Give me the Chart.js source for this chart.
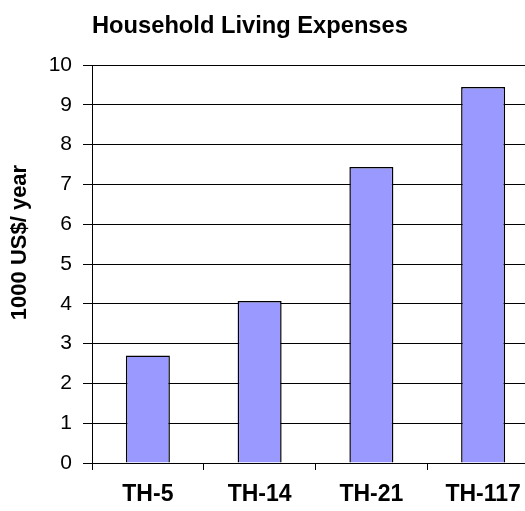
<!DOCTYPE html>
<html>
<head>
<meta charset="utf-8">
<script src="https://cdn.jsdelivr.net/npm/chart.js@4"></script>
<style>
    html, body { margin: 0; padding: 0; background: #fff; overflow: hidden; }
    #wrap { width: 550px; height: 511px; }
</style>
</head>
<body>
<div id="wrap"><canvas id="expChart" width="550" height="511"></canvas></div>
<script>
// chart data
const categories = ["TH-5", "TH-14", "TH-21", "TH-117"];
const expenses = [2.7, 4.07, 7.44, 9.45];
const yTicks = [0, 1, 2, 3, 4, 5, 6, 7, 8, 9, 10];
const chartTitle = "Household Living Expenses";
const yTitle = "1000 US$/ year";

const FONT = "Arial, 'Liberation Sans', sans-serif";

// chart title from chart area left edge, and the rotated y title
const titlePlugin = {
    id: "texts",
    afterDraw(chart) {
        const ctx = chart.ctx;
        ctx.save();
        ctx.font = "bold 23.7px " + FONT;
        ctx.fillStyle = "#000";
        ctx.textBaseline = "alphabetic";
        ctx.fillText(chartTitle, chart.chartArea.left, 33);
        ctx.translate(20, 242.5);
        ctx.rotate(-Math.PI / 2);
        ctx.font = "bold 22px " + FONT;
        ctx.textAlign = "center";
        ctx.textBaseline = "middle";
        ctx.fillText(yTitle, 0, 0);
        ctx.restore();
    }
};

const ctx = document.getElementById("expChart").getContext("2d");
new Chart(ctx, {
    type: "bar",
    data: {
        labels: categories,
        datasets: [{
            data: expenses,
            backgroundColor: "#9999FF",
            borderColor: "#000000",
            borderWidth: 1.5,
            categoryPercentage: 1,
            barPercentage: 0.394
        }]
    },
    options: {
        responsive: false,
        animation: false,
        layout: { padding: { top: 65, right: 11, bottom: 0, left: 0 } },
        plugins: {
            legend: { display: false },
            title: { display: false },
            tooltip: { enabled: false }
        },
        scales: {
            x: {
                grid: { drawOnChartArea: false, color: "#000", tickLength: 7, offset: true },
                border: { color: "#000", width: 1 },
                ticks: { color: "#000", font: { family: FONT, size: 23, weight: "bold" }, padding: 11 },
                afterFit: s => { s.height = 48; }
            },
            y: {
                min: 0,
                max: 10,
                afterBuildTicks: s => { s.ticks = yTicks.map(v => ({ value: v })); },
                grid: { color: "#000", tickLength: 9 },
                border: { color: "#000", width: 1 },
                ticks: { color: "#000", font: { family: FONT, size: 21 }, padding: 11 },
                afterFit: s => { s.width = 92; }
            }
        }
    },
    plugins: [titlePlugin]
});
</script>
</body>
</html>
